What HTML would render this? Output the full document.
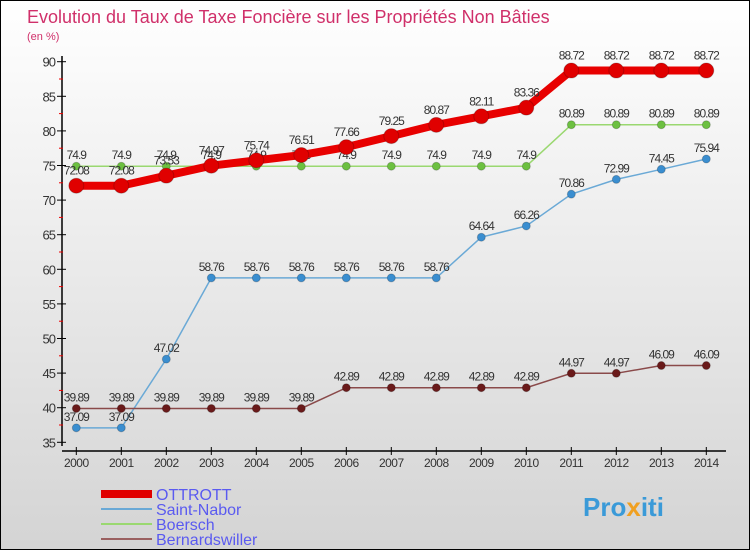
<!DOCTYPE html>
<html><head><meta charset="utf-8"><style>
body{margin:0}
#c{width:750px;height:550px;position:relative;box-sizing:border-box;border:1px solid #000;background:linear-gradient(#ffffff,#d4d4d4);font-family:"Liberation Sans",sans-serif;overflow:hidden}
</style></head><body>
<div id="c">
<svg id="s" width="750" height="550" style="position:absolute;left:0;top:0">
<text x="26" y="22" font-size="18" fill="#d0306a">Evolution du Taux de Taxe Foncière sur les Propriétés Non Bâties</text>
<text x="26" y="39" font-size="11" fill="#d0306a">(en %)</text>
<line x1="61" y1="55" x2="61" y2="445" stroke="#000" stroke-width="1.5"/>
<line x1="61" y1="450" x2="725" y2="450" stroke="#000" stroke-width="1.5"/>
<g id="g"></g>
<g font-size="16" fill="#5a5af0">
<rect x="100" y="489" width="51" height="8" fill="#e00000"/>
<text x="155" y="499">OTTROTT</text>
<line x1="100" y1="508" x2="151" y2="508" stroke="#6aa9d6" stroke-width="2"/>
<text x="155" y="514">Saint-Nabor</text>
<line x1="100" y1="523" x2="151" y2="523" stroke="#9ad870" stroke-width="2"/>
<text x="155" y="529">Boersch</text>
<line x1="100" y1="538" x2="151" y2="538" stroke="#9a6060" stroke-width="2"/>
<text x="155" y="544">Bernardswiller</text>
</g>
<text x="582" y="515" font-size="26" font-weight="bold" fill="#3a9ad8">Pro<tspan fill="#f0a020">x</tspan>iti</text>
</svg>
</div>
<script>
const years=[2000,2001,2002,2003,2004,2005,2006,2007,2008,2009,2010,2011,2012,2013,2014];
const yTicks=[35,40,45,50,55,60,65,70,75,80,85,90];
const ottrott=[72.08,72.08,73.53,74.97,75.74,76.51,77.66,79.25,80.87,82.11,83.36,88.72,88.72,88.72,88.72];
const saintNabor=[37.09,37.09,47.02,58.76,58.76,58.76,58.76,58.76,58.76,64.64,66.26,70.86,72.99,74.45,75.94];
const boersch=[74.9,74.9,74.9,74.9,74.9,74.9,74.9,74.9,74.9,74.9,74.9,80.89,80.89,80.89,80.89];
const bernardswiller=[39.89,39.89,39.89,39.89,39.89,39.89,42.89,42.89,42.89,42.89,42.89,44.97,44.97,46.09,46.09];
const X=i=>75.3+i*45.0, Y=v=>60.7+(90-v)*6.92;
const g=document.getElementById('g'),NS='http://www.w3.org/2000/svg';
function el(t,a,p){const e=document.createElementNS(NS,t);for(const k in a)e.setAttribute(k,a[k]);(p||g).appendChild(e);return e;}
yTicks.forEach(v=>{
 const l=el('line',{x1:56,y1:Y(v),x2:65,y2:Y(v),stroke:'#000'});
 
 
 const t=el('text',{x:54,y:Y(v)+5,'font-size':13,'text-anchor':'end',fill:'#333','letter-spacing':'-1'});
 t.textContent=v;
 
 
 if(v>35){
  const m=el('line',{x1:58,y1:Y(v-2.5),x2:62,y2:Y(v-2.5),stroke:'#e00'});
  
  
 }
});
years.forEach((y,i)=>{
 const l=el('line',{x1:X(i),y1:446,x2:X(i),y2:454,stroke:'#000'});
 
 
 const t=el('text',{x:X(i),y:466,'font-size':12,'text-anchor':'middle',fill:'#333','letter-spacing':'-0.5'});
 t.textContent=y;
 
 
});
function series(d,name,col,dot,w,r,dy){
 const pts=d.map((v,i)=>X(i)+','+Y(v)).join(' ');
 const p=el('polyline',{points:pts,fill:'none',stroke:col,'stroke-width':w});
 
 
 d.forEach((v,i)=>{
  const c=el('circle',{cx:X(i),cy:Y(v),r:r,fill:dot,stroke:'rgba(0,0,0,0.2)'});
  
  
  const t=el('text',{x:X(i),y:Y(v)+dy,'font-size':12,'text-anchor':'middle',fill:'#333','letter-spacing':'-1'});
  t.textContent=String(v);
  
  
 });
}
series(boersch,'boersch','#9ad870','#6cc040',1.5,4,-7);
series(saintNabor,'saint-nabor','#6aa9d6','#3a8ed0',1.5,4,-7);
series(bernardswiller,'bernardswiller','#8a4a4a','#6a1a1a',1.5,4,-7);
series(ottrott,'ottrott','#e80000','#e00000',8,7.5,-11);
</script>
</body></html>
